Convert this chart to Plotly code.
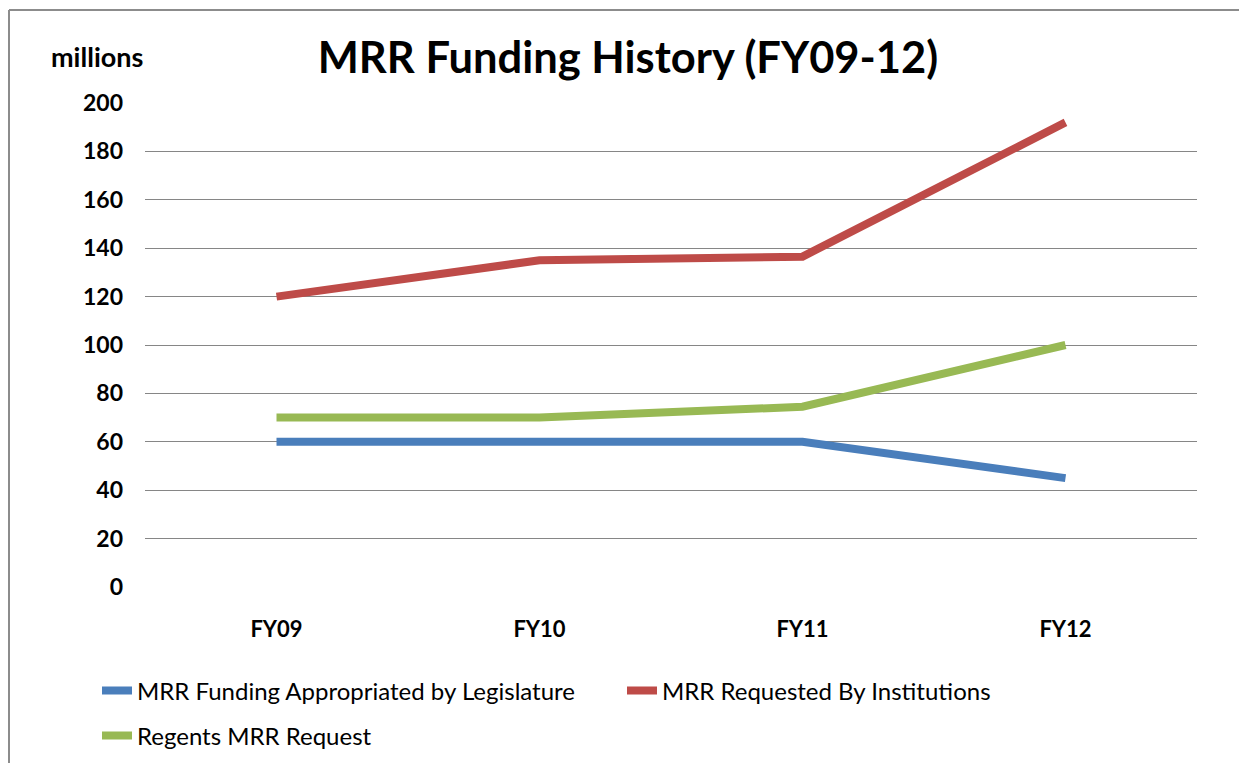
import plotly.graph_objects as go

categories = ["FY09", "FY10", "FY11", "FY12"]
appropriated = [60, 60, 60, 45]
requested_institutions = [120, 135, 136.5, 192]
regents_request = [70, 70, 74.5, 100]
y_ticks = [0, 20, 40, 60, 80, 100, 120, 140, 160, 180, 200]

FONT = "Lato"
# page body margin offset (8px) compensation: work in reference pixel coords
OFF = 8
W, H = 1247 - OFF, 763 - OFF
PL, PR, PT, PB = 145, 1197, 103, 587  # plot area in reference coords
L, R, T, B = PL - OFF, W - (PR - OFF), PT - OFF, H - (PB - OFF)
pw, ph = W - L - R, H - T - B


def px_x(x):
    return (x - OFF - L) / pw


def px_y(y):
    return (H - B - (y - OFF)) / ph


fig = go.Figure()
series = [
    ("MRR Funding Appropriated by Legislature", appropriated, "#4A7EBB", "legend"),
    ("MRR Requested By Institutions", requested_institutions, "#BE4B48", "legend"),
    ("Regents MRR Request", regents_request, "#98B954", "legend2"),
]
for name, vals, col, lg in series:
    fig.add_trace(go.Scatter(x=categories, y=vals, name=name, mode="lines",
                             line=dict(color=col, width=8), legend=lg))

legend_common = dict(orientation="h", xanchor="left", yanchor="middle",
                     font=dict(size=24, family=FONT, color="#000000"),
                     itemwidth=30, bgcolor="rgba(0,0,0,0)", borderwidth=0)

fig.update_layout(
    width=W, height=H,
    margin=dict(l=L, r=R, t=T, b=B, autoexpand=False),
    paper_bgcolor="white", plot_bgcolor="white",
    font=dict(family=FONT, color="#000000"),
    title=dict(text="MRR Funding History (FY09-12)", x=(628 - OFF) / W, xref="container",
               xanchor="center", y=1 - (58 - OFF) / H, yref="container", yanchor="middle",
               font=dict(size=43.5, family=FONT, color="#000000", weight="bold")),
    xaxis=dict(type="category", range=[-0.5, 3.5], showgrid=False, zeroline=False,
               showline=False, ticks="", ticklabelstandoff=27,
               tickfont=dict(size=22, family=FONT, color="#000000", weight="bold")),
    yaxis=dict(range=[0, 200], tickvals=y_ticks, showgrid=True, gridcolor="#868686",
               gridwidth=1, zeroline=False, showline=False, ticks="",
               ticklabelstandoff=21,
               tickfont=dict(size=23, family=FONT, color="#000000", weight="bold")),
    legend=dict(x=px_x(97), y=px_y(691), entrywidth=480, entrywidthmode="pixels",
                **legend_common),
    legend2=dict(x=px_x(97), y=px_y(736), **legend_common),
    showlegend=True,
)

fig.add_annotation(text="millions", xref="paper", yref="paper",
                   x=px_x(97), y=px_y(57), xanchor="center", yanchor="middle",
                   showarrow=False,
                   font=dict(size=27, family=FONT, color="#000000", weight="bold"))

border = dict(color="#8C8C8C", width=2)
fig.add_shape(type="line", xref="paper", yref="paper",
              x0=px_x(9), x1=px_x(1260), y0=px_y(10), y1=px_y(10), line=border)
fig.add_shape(type="line", xref="paper", yref="paper",
              x0=px_x(9), x1=px_x(9), y0=px_y(10), y1=px_y(780), line=border)

fig.write_html("out.html")
